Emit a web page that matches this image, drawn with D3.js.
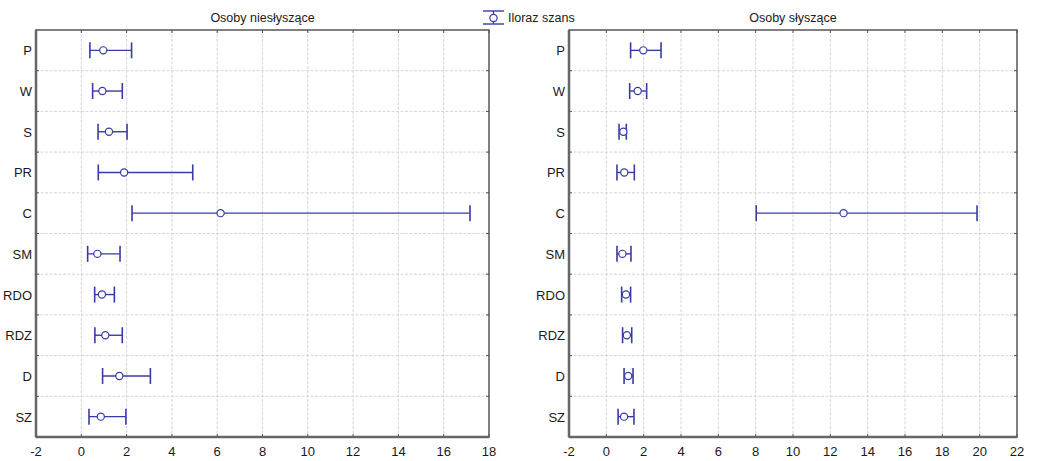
<!DOCTYPE html>
<html><head><meta charset="utf-8">
<script src="https://cdn.jsdelivr.net/npm/d3@7"></script>
<style>
body{margin:0;background:#fff;}
text{font-family:"Liberation Sans",Arial,sans-serif;fill:#1a1a1a;}
</style></head><body>
<svg id="chart" width="1037" height="461"></svg>
<script>
const categories = ["P","W","S","PR","C","SM","RDO","RDZ","D","SZ"];
// Osoby niesłyszące
const deafOR    = [0.97, 0.93, 1.22, 1.89, 6.15, 0.71, 0.91, 1.06, 1.68, 0.86];
const deafLow   = [0.38, 0.50, 0.74, 0.75, 2.24, 0.28, 0.59, 0.60, 0.94, 0.34];
const deafHigh  = [2.22, 1.81, 2.02, 4.92, 17.16, 1.71, 1.46, 1.81, 3.05, 1.97];
// Osoby słyszące
const hearOR    = [1.98, 1.68, 0.91, 0.96, 12.71, 0.86, 1.05, 1.10, 1.17, 0.95];
const hearLow   = [1.30, 1.25, 0.68, 0.57, 8.03, 0.57, 0.82, 0.87, 0.95, 0.63];
const hearHigh  = [2.93, 2.16, 1.07, 1.50, 19.86, 1.32, 1.30, 1.36, 1.43, 1.48];
const leftTicks  = [-2,0,2,4,6,8,10,12,14,16,18];
const rightTicks = [-2,0,2,4,6,8,10,12,14,16,18,20,22];
const titles = ["Osoby niesłyszące","Osoby słyszące"];
const legendLabel = "Iloraz szans";

const svg = d3.select("#chart");
const color = "#3a3aa6";
const plotTop = 30, plotBottom = 437;

function panel(x0, x1, domain, ticks, title, or, lo, hi){
  const g = svg.append("g");
  const x = d3.scaleLinear().domain(domain).range([x0, x1]);
  const y = d3.scaleBand().domain(categories).range([plotTop, plotBottom]);
  g.selectAll(".vg").data(ticks.slice(1, -1)).join("line")
    .attr("x1", d => x(d)).attr("x2", d => x(d)).attr("y1", plotTop).attr("y2", plotBottom)
    .attr("stroke", "#d6d6d6").attr("stroke-width", 1).attr("stroke-dasharray", "3,1.5");
  const bounds = categories.slice(1).map(c => y(c));
  g.selectAll(".hg").data(bounds).join("line")
    .attr("x1", x0).attr("x2", x1).attr("y1", d => d).attr("y2", d => d)
    .attr("stroke", "#d6d6d6").attr("stroke-width", 1).attr("stroke-dasharray", "3,1.5");
  g.selectAll(".tt").data(ticks).join("line")
    .attr("x1", d => x(d)).attr("x2", d => x(d)).attr("y1", plotTop).attr("y2", plotTop + 3)
    .attr("stroke", "#555");
  g.selectAll(".bt").data(ticks).join("line")
    .attr("x1", d => x(d)).attr("x2", d => x(d)).attr("y1", plotBottom).attr("y2", plotBottom - 3)
    .attr("stroke", "#555");
  g.selectAll(".lt").data(bounds).join("line")
    .attr("x1", x0).attr("x2", x0 + 3).attr("y1", d => d).attr("y2", d => d).attr("stroke", "#555");
  g.selectAll(".rt").data(bounds).join("line")
    .attr("x1", x1).attr("x2", x1 - 3).attr("y1", d => d).attr("y2", d => d).attr("stroke", "#555");
  g.append("rect").attr("x", x0).attr("y", plotTop).attr("width", x1 - x0).attr("height", plotBottom - plotTop)
    .attr("fill", "none").attr("stroke", "#555").attr("stroke-width", 1.5);
  g.append("line").attr("x1", x0).attr("x2", x0).attr("y1", plotTop).attr("y2", plotBottom)
    .attr("stroke", "#666").attr("stroke-width", 2.5);
  g.append("line").attr("x1", x0).attr("x2", x1).attr("y1", plotBottom).attr("y2", plotBottom)
    .attr("stroke", "#666").attr("stroke-width", 2.5);
  g.selectAll(".xl").data(ticks).join("text")
    .attr("x", d => x(d)).attr("y", 456).attr("text-anchor", "middle")
    .attr("font-size", 13).text(d => d);
  g.selectAll(".yl").data(categories).join("text")
    .attr("x", x0 - 4).attr("y", d => y(d) + y.bandwidth() / 2 + 5)
    .attr("text-anchor", "end").attr("font-size", 13).text(d => d);
  g.append("text").attr("x", (x0 + x1) / 2).attr("y", 22).attr("text-anchor", "middle")
    .attr("font-size", 12.5).text(title);
  const cap = 8;
  categories.forEach((c, i) => {
    const cy = y(c) + y.bandwidth() / 2;
    g.append("line").attr("x1", x(lo[i])).attr("x2", x(hi[i])).attr("y1", cy).attr("y2", cy)
      .attr("stroke", color).attr("stroke-width", 1.4);
    [lo[i], hi[i]].forEach(v => {
      g.append("line").attr("x1", x(v)).attr("x2", x(v)).attr("y1", cy - cap).attr("y2", cy + cap)
        .attr("stroke", color).attr("stroke-width", 1.6);
    });
    g.append("circle").attr("cx", x(or[i])).attr("cy", cy).attr("r", 3.6)
      .attr("fill", "#fff").attr("stroke", color).attr("stroke-width", 1.2);
  });
}

panel(36, 489, [-2, 18], leftTicks, titles[0], deafOR, deafLow, deafHigh);
panel(569, 1017, [-2, 22], rightTicks, titles[1], hearOR, hearLow, hearHigh);

const lg = svg.append("g");
lg.append("line").attr("x1", 483).attr("x2", 504).attr("y1", 11).attr("y2", 11).attr("stroke", color).attr("stroke-width", 1.4);
lg.append("line").attr("x1", 483).attr("x2", 504).attr("y1", 24).attr("y2", 24).attr("stroke", color).attr("stroke-width", 1.4);
lg.append("line").attr("x1", 493.5).attr("x2", 493.5).attr("y1", 11).attr("y2", 24).attr("stroke", color).attr("stroke-width", 1.2);
lg.append("circle").attr("cx", 493.5).attr("cy", 18).attr("r", 3.6).attr("fill", "#fff").attr("stroke", color).attr("stroke-width", 1.2);
lg.append("text").attr("x", 508).attr("y", 22).attr("font-size", 12.5).text(legendLabel);
</script>
</body></html>
